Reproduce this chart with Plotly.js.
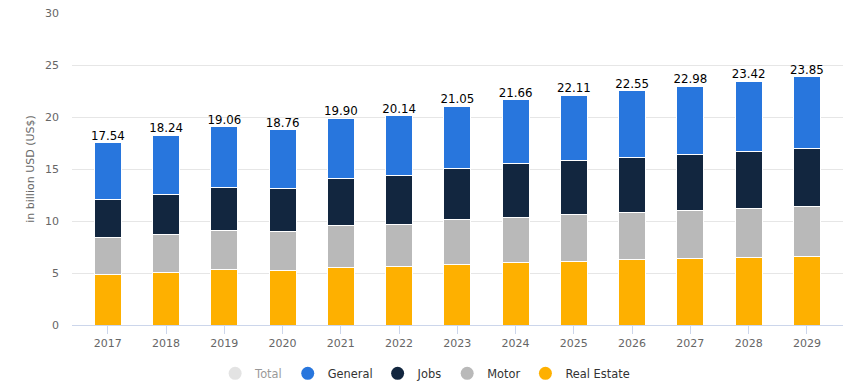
<!DOCTYPE html>
<html>
<head>
<meta charset="utf-8">
<script src="https://cdn.plot.ly/plotly-3.0.1.min.js"></script>
<style>
  html, body { margin: 0; padding: 0; background: #fff; }
  #chart { width: 856px; height: 392px; }
</style>
</head>
<body>
<div id="chart"></div>
<script>
const years = ['2017','2018','2019','2020','2021','2022','2023','2024','2025','2026','2027','2028','2029'];
const realEstate = [4.87, 5.06, 5.35, 5.26, 5.55, 5.64, 5.83, 6.03, 6.12, 6.31, 6.41, 6.51, 6.60];
const motor      = [3.59, 3.66, 3.75, 3.75, 4.03, 4.04, 4.36, 4.35, 4.52, 4.52, 4.62, 4.71, 4.81];
const jobs       = [3.56, 3.84, 4.14, 4.13, 4.49, 4.71, 4.87, 5.16, 5.19, 5.29, 5.38, 5.48, 5.58];
const general    = [5.52, 5.68, 5.82, 5.62, 5.83, 5.75, 5.99, 6.12, 6.28, 6.43, 6.57, 6.72, 6.86];
const totals     = [17.54, 18.24, 19.06, 18.76, 19.90, 20.14, 21.05, 21.66, 22.11, 22.55, 22.98, 23.42, 23.85];

const colors = { general: '#2876dd', jobs: '#12263f', motor: '#b9b9b9', realEstate: '#feb000', total: '#c8c8c8' };
const font = '"DejaVu Sans", "Liberation Sans", sans-serif';

function bar(name, vals, color) {
  return { type: 'bar', name: name, x: years, y: vals, showlegend: false,
    marker: { color: color, line: { color: '#ffffff', width: 1 } }, hoverinfo: 'x+y+name' };
}
function legendItem(name, color, vis) {
  return { type: 'scatter', mode: 'markers', name: name, x: [null], y: [null],
    marker: { color: color, size: 13, symbol: 'circle' }, visible: vis || true, showlegend: true };
}

const data = [
  bar('Real Estate', realEstate, colors.realEstate),
  bar('Motor', motor, colors.motor),
  bar('Jobs', jobs, colors.jobs),
  bar('General', general, colors.general),
  { type: 'scatter', mode: 'text', x: years, y: totals, text: totals.map(v => v.toFixed(2)),
    textposition: 'top center', textfont: { family: font, size: 11.8, color: '#000' },
    showlegend: false, hoverinfo: 'skip', cliponaxis: false },
  legendItem('Total', colors.total, 'legendonly'),
  legendItem('General', colors.general),
  legendItem('Jobs', colors.jobs),
  legendItem('Motor', colors.motor),
  legendItem('Real Estate', colors.realEstate)
];

const layout = {
  width: 856, height: 392,
  margin: { l: 72, r: 13, t: 13, b: 67, autoexpand: false },
  paper_bgcolor: '#ffffff', plot_bgcolor: '#ffffff',
  font: { family: font, size: 11, color: '#666' },
  barmode: 'stack', bargap: 0.536,
  xaxis: {
    type: 'category', range: [-0.615, 12.62],
    showline: true, linecolor: '#ccd6eb', linewidth: 1,
    ticks: 'outside', ticklen: 8, tickcolor: '#ccd6eb', tickwidth: 1,
    tickfont: { family: font, size: 11, color: '#666' },
    showgrid: false, fixedrange: true
  },
  yaxis: {
    range: [0, 30], dtick: 5, tick0: 0,
    gridcolor: '#e6e6e6', gridwidth: 1, zeroline: false,
    ticks: '', ticklabelstandoff: 12,
    tickfont: { family: font, size: 11, color: '#666' },
    title: { text: 'in billion USD (US$)', font: { family: font, size: 11, color: '#666' }, standoff: 8 },
    fixedrange: true
  },
  showlegend: true,
  legend: {
    orientation: 'h', x: 0.458, xanchor: 'center', y: -0.155, yanchor: 'middle',
    traceorder: 'normal', itemwidth: 30,
    font: { family: font, size: 11.4, color: '#333' },
    bgcolor: 'rgba(0,0,0,0)'
  }
};

Plotly.newPlot('chart', data, layout, { displayModeBar: false, staticPlot: true });
</script>
</body>
</html>
